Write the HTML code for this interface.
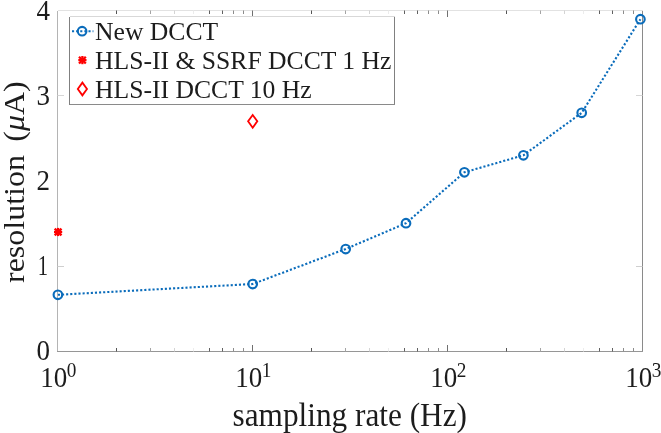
<!DOCTYPE html>
<html><head><meta charset="utf-8"><title>DCCT resolution</title>
<style>
html,body{margin:0;padding:0;background:#fff;}
svg{display:block;}
text{font-family:"Liberation Serif","Times New Roman",serif;fill:#1c1c1c;}
</style></head><body>
<svg width="661" height="433" viewBox="0 0 661 433">
<rect width="661" height="433" fill="#fff"/>
<g stroke-width="1" fill="none" shape-rendering="crispEdges">
<line x1="57.5" y1="10.5" x2="57.5" y2="351.5" stroke="#b4b4b4"/>
<line x1="57.5" y1="10.5" x2="642.5" y2="10.5" stroke="#e2e2e2"/>
<line x1="642.5" y1="10.5" x2="642.5" y2="352.0" stroke="#8a8a8a"/>
<line x1="57.0" y1="351.5" x2="643.0" y2="351.5" stroke="#969696"/>
</g>
<g stroke-width="1" fill="none"><line x1="116.5" y1="351.5" x2="116.5" y2="348.0" stroke="#555"/><line x1="116.5" y1="10.5" x2="116.5" y2="14.0" stroke="#555"/><line x1="150.5" y1="351.5" x2="150.5" y2="348.0" stroke="#a4a4a4"/><line x1="150.5" y1="10.5" x2="150.5" y2="14.0" stroke="#a4a4a4"/><line x1="174.5" y1="351.5" x2="174.5" y2="348.0" stroke="#d4d4d4"/><line x1="174.5" y1="10.5" x2="174.5" y2="14.0" stroke="#d4d4d4"/><line x1="193.5" y1="351.5" x2="193.5" y2="348.0" stroke="#ececec"/><line x1="193.5" y1="10.5" x2="193.5" y2="14.0" stroke="#ececec"/><line x1="209.5" y1="351.5" x2="209.5" y2="348.0" stroke="#606060"/><line x1="209.5" y1="10.5" x2="209.5" y2="14.0" stroke="#606060"/><line x1="222.5" y1="351.5" x2="222.5" y2="348.0" stroke="#606060"/><line x1="222.5" y1="10.5" x2="222.5" y2="14.0" stroke="#606060"/><line x1="233.5" y1="351.5" x2="233.5" y2="348.0" stroke="#8c8c8c"/><line x1="233.5" y1="10.5" x2="233.5" y2="14.0" stroke="#8c8c8c"/><line x1="243.5" y1="351.5" x2="243.5" y2="348.0" stroke="#8c8c8c"/><line x1="243.5" y1="10.5" x2="243.5" y2="14.0" stroke="#8c8c8c"/><line x1="252.5" y1="351.5" x2="252.5" y2="345.0" stroke="#707070"/><line x1="252.5" y1="10.5" x2="252.5" y2="17.0" stroke="#707070"/><line x1="311.5" y1="351.5" x2="311.5" y2="348.0" stroke="#555"/><line x1="311.5" y1="10.5" x2="311.5" y2="14.0" stroke="#555"/><line x1="345.5" y1="351.5" x2="345.5" y2="348.0" stroke="#a4a4a4"/><line x1="345.5" y1="10.5" x2="345.5" y2="14.0" stroke="#a4a4a4"/><line x1="369.5" y1="351.5" x2="369.5" y2="348.0" stroke="#d4d4d4"/><line x1="369.5" y1="10.5" x2="369.5" y2="14.0" stroke="#d4d4d4"/><line x1="388.5" y1="351.5" x2="388.5" y2="348.0" stroke="#ececec"/><line x1="388.5" y1="10.5" x2="388.5" y2="14.0" stroke="#ececec"/><line x1="404.5" y1="351.5" x2="404.5" y2="348.0" stroke="#606060"/><line x1="404.5" y1="10.5" x2="404.5" y2="14.0" stroke="#606060"/><line x1="417.5" y1="351.5" x2="417.5" y2="348.0" stroke="#606060"/><line x1="417.5" y1="10.5" x2="417.5" y2="14.0" stroke="#606060"/><line x1="428.5" y1="351.5" x2="428.5" y2="348.0" stroke="#8c8c8c"/><line x1="428.5" y1="10.5" x2="428.5" y2="14.0" stroke="#8c8c8c"/><line x1="438.5" y1="351.5" x2="438.5" y2="348.0" stroke="#8c8c8c"/><line x1="438.5" y1="10.5" x2="438.5" y2="14.0" stroke="#8c8c8c"/><line x1="447.5" y1="351.5" x2="447.5" y2="345.0" stroke="#707070"/><line x1="447.5" y1="10.5" x2="447.5" y2="17.0" stroke="#707070"/><line x1="506.5" y1="351.5" x2="506.5" y2="348.0" stroke="#555"/><line x1="506.5" y1="10.5" x2="506.5" y2="14.0" stroke="#555"/><line x1="540.5" y1="351.5" x2="540.5" y2="348.0" stroke="#a4a4a4"/><line x1="540.5" y1="10.5" x2="540.5" y2="14.0" stroke="#a4a4a4"/><line x1="564.5" y1="351.5" x2="564.5" y2="348.0" stroke="#d4d4d4"/><line x1="564.5" y1="10.5" x2="564.5" y2="14.0" stroke="#d4d4d4"/><line x1="583.5" y1="351.5" x2="583.5" y2="348.0" stroke="#ececec"/><line x1="583.5" y1="10.5" x2="583.5" y2="14.0" stroke="#ececec"/><line x1="599.5" y1="351.5" x2="599.5" y2="348.0" stroke="#606060"/><line x1="599.5" y1="10.5" x2="599.5" y2="14.0" stroke="#606060"/><line x1="612.5" y1="351.5" x2="612.5" y2="348.0" stroke="#606060"/><line x1="612.5" y1="10.5" x2="612.5" y2="14.0" stroke="#606060"/><line x1="623.5" y1="351.5" x2="623.5" y2="348.0" stroke="#8c8c8c"/><line x1="623.5" y1="10.5" x2="623.5" y2="14.0" stroke="#8c8c8c"/><line x1="633.5" y1="351.5" x2="633.5" y2="348.0" stroke="#8c8c8c"/><line x1="633.5" y1="10.5" x2="633.5" y2="14.0" stroke="#8c8c8c"/><line x1="57.5" y1="266.5" x2="64.0" y2="266.5" stroke="#cfcfcf"/><line x1="642.5" y1="266.5" x2="636.0" y2="266.5" stroke="#cfcfcf"/><line x1="57.5" y1="95.5" x2="64.0" y2="95.5" stroke="#d6d6d6"/><line x1="642.5" y1="95.5" x2="636.0" y2="95.5" stroke="#d6d6d6"/></g>
<text transform="translate(50,360.4) scale(1,1.09)" font-size="27" text-anchor="end">0</text>
<text transform="translate(48.1,274.7) scale(0.76,1.09)" font-size="27" text-anchor="end">1</text>
<text transform="translate(50,189.9) scale(1,1.09)" font-size="27" text-anchor="end">2</text>
<text transform="translate(50,104.7) scale(1,1.09)" font-size="27" text-anchor="end">3</text>
<text transform="translate(50,19.9) scale(1,1.09)" font-size="27" text-anchor="end">4</text>
<text transform="translate(40.2,387.3) scale(1,1.09)" font-size="27" text-anchor="start">10<tspan dx="-0.4" dy="-9.7" font-size="19.3">0</tspan></text>
<text transform="translate(235.2,387.3) scale(1,1.09)" font-size="27" text-anchor="start">10<tspan dx="-0.4" dy="-9.7" font-size="19.3">1</tspan></text>
<text transform="translate(430.2,387.3) scale(1,1.09)" font-size="27" text-anchor="start">10<tspan dx="-0.4" dy="-9.7" font-size="19.3">2</tspan></text>
<text transform="translate(625.2,387.3) scale(1,1.09)" font-size="27" text-anchor="start">10<tspan dx="-0.4" dy="-9.7" font-size="19.3">3</tspan></text>
<text transform="translate(232.5,426) scale(1,1.09)" font-size="31.3" text-anchor="start">sampling rate (Hz)</text>
<text transform="translate(24,283) rotate(-90) scale(1.085,1)" font-size="29.5">resolution <tspan dx="4.9">(</tspan><tspan font-style="italic">μ</tspan>A)</text>
<polyline points="57.9,294.8 252.7,284.0 345.7,249.0 406.0,223.2 464.4,172.3 523.4,155.3 581.7,112.8 640.4,19.2" fill="none" stroke="#0a6cbb" stroke-width="2.1" stroke-dasharray="2.1 2.02"/>
<circle cx="57.9" cy="294.8" r="4.3" fill="none" stroke="#0a6cbb" stroke-width="2.15"/>
<circle cx="252.7" cy="284.0" r="4.3" fill="none" stroke="#0a6cbb" stroke-width="2.15"/>
<circle cx="345.7" cy="249.0" r="4.3" fill="none" stroke="#0a6cbb" stroke-width="2.15"/>
<circle cx="406.0" cy="223.2" r="4.3" fill="none" stroke="#0a6cbb" stroke-width="2.15"/>
<circle cx="464.4" cy="172.3" r="4.3" fill="none" stroke="#0a6cbb" stroke-width="2.15"/>
<circle cx="523.4" cy="155.3" r="4.3" fill="none" stroke="#0a6cbb" stroke-width="2.15"/>
<circle cx="581.7" cy="112.8" r="4.3" fill="none" stroke="#0a6cbb" stroke-width="2.15"/>
<circle cx="640.4" cy="19.2" r="4.3" fill="none" stroke="#0a6cbb" stroke-width="2.15"/>
<g stroke="#ff0000" stroke-width="2.3"><line x1="54.00" y1="232.00" x2="62.20" y2="232.00"/><line x1="54.71" y1="228.61" x2="61.49" y2="235.39"/><line x1="58.10" y1="227.90" x2="58.10" y2="236.10"/><line x1="61.49" y1="228.61" x2="54.71" y2="235.39"/></g>
<path d="M252.70 114.92 L257.30 121.32 L252.70 127.72 L248.10 121.32 Z" fill="none" stroke="#ff0000" stroke-width="1.8"/>
<rect x="69.5" y="16.5" width="325.0" height="88.0" fill="#fff" stroke="none"/>
<g stroke-width="1" fill="none" shape-rendering="crispEdges"><line x1="69.5" y1="16.5" x2="69.5" y2="104.5" stroke="#808080"/><line x1="69.5" y1="16.5" x2="394.5" y2="16.5" stroke="#d8d8d8"/><line x1="394.5" y1="16.5" x2="394.5" y2="104.5" stroke="#808080"/><line x1="69.5" y1="104.5" x2="395.0" y2="104.5" stroke="#8a8a8a"/></g>
<text transform="translate(95.0,39.5) scale(1,1.02)" font-size="25.65" text-anchor="start">New DCCT</text>
<text transform="translate(95.0,68.8) scale(1,1.02)" font-size="25.65" text-anchor="start">HLS-II &amp; SSRF DCCT 1 Hz</text>
<text transform="translate(95.0,97.8) scale(1,1.02)" font-size="25.65" text-anchor="start">HLS-II DCCT 10 Hz</text>
<line x1="72" y1="31.2" x2="93.4" y2="31.2" stroke="#0a6cbb" stroke-width="2.1" stroke-dasharray="2.1 2.02"/>
<circle cx="82.1" cy="31.2" r="4.3" fill="none" stroke="#0a6cbb" stroke-width="2.15"/>
<g stroke="#ff0000" stroke-width="2.3"><line x1="78.30" y1="60.10" x2="86.50" y2="60.10"/><line x1="79.01" y1="56.71" x2="85.79" y2="63.49"/><line x1="82.40" y1="56.00" x2="82.40" y2="64.20"/><line x1="85.79" y1="56.71" x2="79.01" y2="63.49"/></g>
<path d="M82.40 82.60 L87.00 89.00 L82.40 95.40 L77.80 89.00 Z" fill="none" stroke="#ff0000" stroke-width="1.8"/>
</svg></body></html>
